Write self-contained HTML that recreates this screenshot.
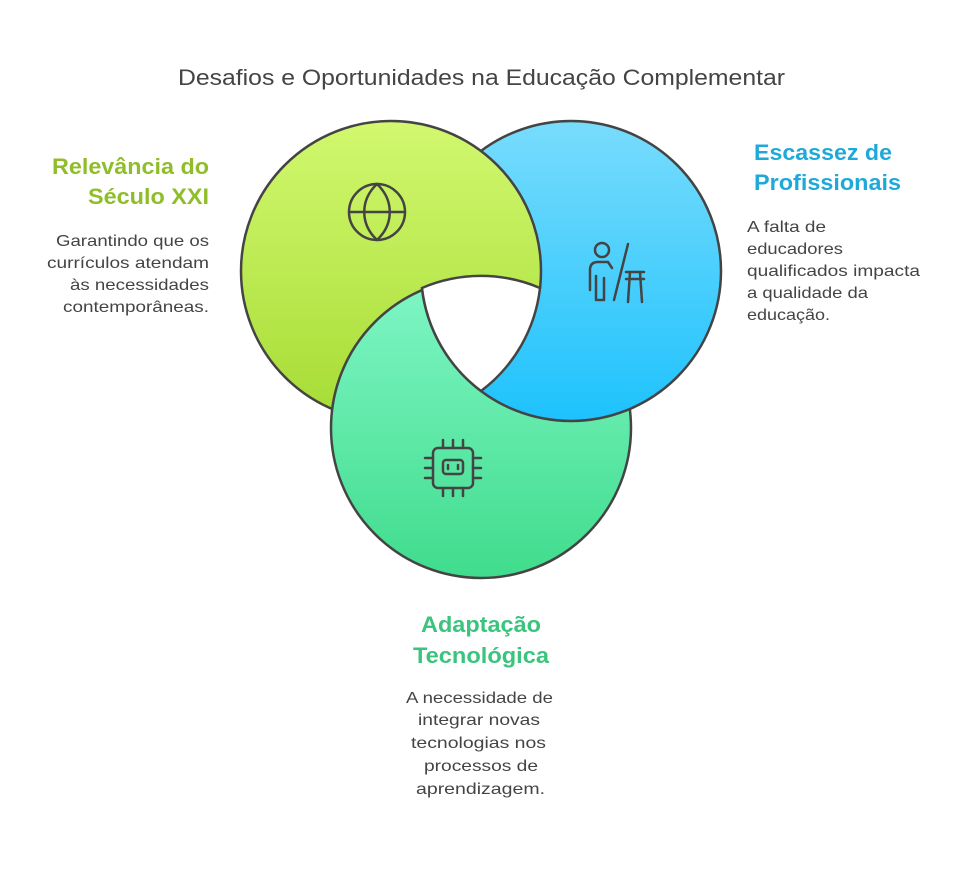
<!DOCTYPE html>
<html><head><meta charset="utf-8"><style>
body{margin:0;background:#fff;width:970px;height:865px;overflow:hidden;font-family:"Liberation Sans",sans-serif}
</style></head><body>
<svg width="970" height="865" viewBox="0 0 970 865" xmlns="http://www.w3.org/2000/svg" font-family="Liberation Sans, sans-serif">
<defs>
<linearGradient id="gg" x1="0" y1="0" x2="0" y2="1"><stop offset="0" stop-color="#d2f86f"/><stop offset="1" stop-color="#a6dc35"/></linearGradient>
<linearGradient id="gb" x1="0" y1="0" x2="0" y2="1"><stop offset="0" stop-color="#78dcfc"/><stop offset="1" stop-color="#1ec2fd"/></linearGradient>
<linearGradient id="gt" x1="0" y1="0" x2="0" y2="1"><stop offset="0" stop-color="#80f6c6"/><stop offset="1" stop-color="#40dc8c"/></linearGradient>
<clipPath id="ct"><circle cx="481" cy="428" r="152"/></clipPath>
</defs>
<text x="178" y="85" textLength="607" lengthAdjust="spacingAndGlyphs" font-size="22" fill="#444">Desafios e Oportunidades na Educação Complementar</text>
<g stroke="#444" stroke-width="2.5">
<circle cx="571" cy="271" r="150" fill="url(#gb)"/>
<circle cx="391" cy="271" r="150" fill="url(#gg)"/>
<circle cx="481" cy="428" r="150" fill="url(#gt)"/>
<circle cx="571" cy="271" r="150" fill="url(#gb)" clip-path="url(#ct)"/>
<path d="M422,288 A150 150 0 0 1 540,288 A150 150 0 0 1 481,391 A150 150 0 0 1 422,288 Z" fill="#fff"/>
</g>
<g fill="none" stroke="#444" stroke-width="2.5" stroke-linecap="round" stroke-linejoin="round">
<circle cx="377" cy="212" r="28"/>
<line x1="349" y1="212" x2="405" y2="212"/>
<path d="M377,184 C360,200 360,224 377,240 C394,224 394,200 377,184"/>
<circle cx="602" cy="250" r="7"/>
<path d="M590,290 V270 Q590,262 598,262 H608 L612,268"/>
<path d="M596,276 V300 M604,278 V300 M598,300 H604"/>
<line x1="614" y1="300" x2="628" y2="244"/>
<path d="M626,272 H644 M630,272 L628,302 M640,272 L642,302 M626,279 H644"/>
<rect x="433" y="448" width="40" height="40" rx="5"/>
<rect x="443" y="460" width="20" height="14" rx="3"/>
<path d="M448,465 V469 M458,465 V469"/>
<path d="M443,448 V440 M453,448 V440 M463,448 V440 M443,488 V496 M453,488 V496 M463,488 V496 M433,458 H425 M433,468 H425 M433,478 H425 M473,458 H481 M473,468 H481 M473,478 H481"/>
</g>
<g font-weight="bold" font-size="22" lengthAdjust="spacingAndGlyphs">
<text x="52" y="174" textLength="157" lengthAdjust="spacingAndGlyphs" fill="#8fbe2a">Relevância do</text>
<text x="88" y="204" textLength="121" lengthAdjust="spacingAndGlyphs" fill="#8fbe2a">Século XXI</text>
<text x="754" y="160" textLength="138" lengthAdjust="spacingAndGlyphs" fill="#1fa9d9">Escassez de</text>
<text x="754" y="190" textLength="147" lengthAdjust="spacingAndGlyphs" fill="#1fa9d9">Profissionais</text>
<text x="421" y="632" textLength="120" lengthAdjust="spacingAndGlyphs" fill="#3bc47e">Adaptação</text>
<text x="413" y="663" textLength="136" lengthAdjust="spacingAndGlyphs" fill="#3bc47e">Tecnológica</text>
</g>
<g font-size="16" fill="#444">
<text x="56" y="246" textLength="153" lengthAdjust="spacingAndGlyphs">Garantindo que os</text>
<text x="47" y="268" textLength="162" lengthAdjust="spacingAndGlyphs">currículos atendam</text>
<text x="70" y="290" textLength="139" lengthAdjust="spacingAndGlyphs">às necessidades</text>
<text x="63" y="312" textLength="146" lengthAdjust="spacingAndGlyphs">contemporâneas.</text>
<text x="747" y="232" textLength="79" lengthAdjust="spacingAndGlyphs">A falta de</text>
<text x="747" y="254" textLength="96" lengthAdjust="spacingAndGlyphs">educadores</text>
<text x="747" y="276" textLength="173" lengthAdjust="spacingAndGlyphs">qualificados impacta</text>
<text x="747" y="298" textLength="121" lengthAdjust="spacingAndGlyphs">a qualidade da</text>
<text x="747" y="320" textLength="83" lengthAdjust="spacingAndGlyphs">educação.</text>
<text x="406" y="703" textLength="147" lengthAdjust="spacingAndGlyphs">A necessidade de</text>
<text x="418" y="725" textLength="122" lengthAdjust="spacingAndGlyphs">integrar novas</text>
<text x="411" y="748" textLength="135" lengthAdjust="spacingAndGlyphs">tecnologias nos</text>
<text x="424" y="771" textLength="114" lengthAdjust="spacingAndGlyphs">processos de</text>
<text x="416" y="794" textLength="129" lengthAdjust="spacingAndGlyphs">aprendizagem.</text>
</g>
</svg>
</body></html>
